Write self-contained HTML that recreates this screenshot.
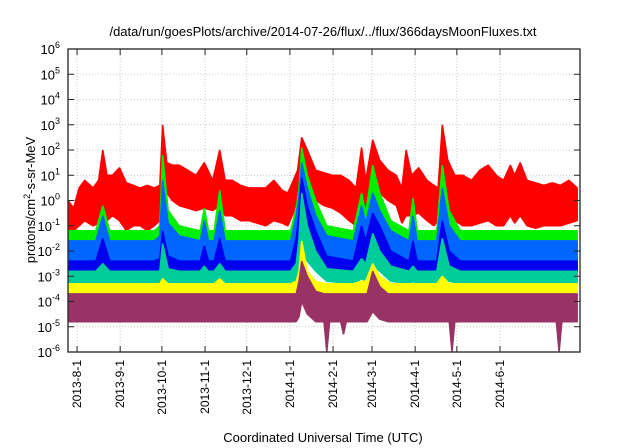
<!DOCTYPE html>
<html><head><meta charset="utf-8"><style>
body{margin:0;background:#fff}
svg{display:block;font-family:"Liberation Sans",sans-serif}
</style></head><body>
<svg id="c" width="640" height="448" xmlns="http://www.w3.org/2000/svg">
<defs><clipPath id="clip"><rect x="68" y="49" width="512" height="303"/></clipPath></defs>
<text x="323" y="36" text-anchor="middle" font-size="13">/data/run/goesPlots/archive/2014-07-26/flux/../flux/366daysMoonFluxes.txt</text>
<g id="grid"></g>
<g id="series" clip-path="url(#clip)"></g>
<rect x="68" y="49" width="512" height="303" fill="none" stroke="#222" stroke-width="1.3"/>
<g id="axes"></g>
<text x="323" y="442" text-anchor="middle" font-size="13">Coordinated Universal Time (UTC)</text>
<text transform="translate(35,200) rotate(-90)" text-anchor="middle" font-size="13">protons/cm<tspan dy="-5" font-size="9">2</tspan><tspan dy="5">-s-sr-MeV</tspan></text>
</svg>
<script>
const xTickLabels=["2013-8-1","2013-9-1","2013-10-1","2013-11-1","2013-12-1","2014-1-1","2014-2-1","2014-3-1","2014-4-1","2014-5-1","2014-6-1"];
const xTickDays=[6.5,37.5,67.5,98.5,128.5,159.5,190.5,218.5,249.5,279.5,310.5];
const yTickExp=[-6,-5,-4,-3,-2,-1,0,1,2,3,4,5,6];
const redDays=[0,4,8,12,18,22,25,28,32,37,42,47,52,57,62,66,68,71,75,80,86,92,98,104,109,113,118,124,130,136,142,148,154,158,162,165,168,172,178,184,190,196,202,207,211,214,219,224,230,236,240,243,247,252,258,263,266,269,273,278,284,290,296,302,308,313,318,321,325,330,336,342,348,354,360,366];
const redHi=[0,-0.3,0.5,0.8,0.5,0.8,2.0,1.0,1.0,1.3,0.7,0.6,0.5,0.6,0.5,0.6,3.0,1.5,1.4,1.4,1.2,1.0,1.5,0.8,2.0,0.8,0.8,0.6,0.5,0.5,0.5,0.8,0.4,0.3,0.8,1.2,2.5,2.0,1.2,1.1,1.0,1.0,0.8,0.5,2.1,0.8,2.4,1.6,1.2,1.0,0.5,2.0,1.0,1.3,0.8,0.6,0.5,3.0,1.6,1.0,1.0,0.8,1.2,1.4,1.0,0.8,1.4,1.0,1.5,0.8,0.7,0.6,0.7,0.6,0.8,0.5];
const redLo=[-1.3,-1.2,-1.0,-0.8,-1.0,-0.9,-0.5,-0.8,-0.6,-0.8,-1.2,-1.0,-1.0,-1.2,-1.0,-0.8,0.3,0.3,0.0,-0.2,-0.3,-0.4,-0.3,-0.4,-0.2,-0.6,-0.6,-0.8,-0.8,-0.9,-1.0,-0.8,-0.9,-1.0,-0.5,0.2,1.0,0.6,0.0,-0.2,-0.3,-0.5,-0.8,-1.0,-0.3,-0.3,0.6,0.3,0.0,-0.2,-0.9,-0.6,-0.6,-0.5,-0.8,-1.0,-0.8,0.5,-0.2,-0.8,-1.0,-1.0,-0.9,-0.8,-1.0,-1.0,-0.6,-0.9,-0.6,-1.0,-1.1,-1.0,-1.0,-1.0,-0.9,-0.8];
const evDays=[0,20,25,30,62,66,68,72,80,95,98,101,105,109,113,160,164,166,168,172,178,186,205,211,214,219,224,232,245,248,251,265,269,274,282,366];
const greenHi=[-1.2,-1.2,-0.2,-1.2,-1.2,-1.0,1.8,-0.4,-1.0,-1.2,-0.3,-1.2,-1.2,0.4,-1.2,-1.2,-0.3,0.5,2.1,1.0,0.0,-1.0,-1.2,0.3,-0.5,1.4,0.3,-0.8,-1.2,0.1,-1.2,-1.2,1.4,-0.4,-1.2,-1.2];
const greenLo=[-2.0,-2.0,-1.8,-2.0,-2.0,-2.0,-0.5,-1.8,-2.0,-2.0,-1.9,-2.0,-2.0,-1.6,-2.0,-2.0,-1.8,-1.0,0.0,-0.5,-1.2,-1.8,-2.0,-1.5,-1.6,-0.8,-1.2,-1.8,-2.0,-1.8,-2.0,-2.0,-1.0,-1.8,-2.0,-2.0];
const lblueHi=[-1.6,-1.6,-0.6,-1.6,-1.6,-1.4,0.8,-0.9,-1.4,-1.6,-0.8,-1.6,-1.6,-0.4,-1.6,-1.6,-0.6,0.2,1.5,0.5,-0.6,-1.4,-1.6,-0.2,-0.9,0.3,-0.4,-1.2,-1.6,-0.6,-1.6,-1.6,0.5,-1.0,-1.6,-1.6];
const lblueLo=[-2.7,-2.7,-2.5,-2.7,-2.7,-2.7,-1.5,-2.5,-2.7,-2.7,-2.6,-2.7,-2.7,-2.4,-2.7,-2.7,-2.5,-1.8,-0.5,-1.0,-1.6,-2.4,-2.7,-2.2,-2.3,-1.5,-1.8,-2.4,-2.7,-2.5,-2.7,-2.7,-1.8,-2.5,-2.7,-2.7];
const blueHi=[-2.4,-2.4,-1.5,-2.4,-2.4,-2.3,-1.2,-2.2,-2.4,-2.4,-1.8,-2.4,-2.4,-1.5,-2.4,-2.4,-1.5,-0.5,0.9,-0.2,-1.2,-2.2,-2.4,-1.0,-1.6,-0.5,-1.0,-2.0,-2.4,-1.6,-2.4,-2.4,-0.8,-2.0,-2.4,-2.4];
const blueLo=[-2.9,-2.9,-2.7,-2.9,-2.9,-2.9,-2.5,-2.9,-2.9,-2.9,-2.8,-2.9,-2.9,-2.7,-2.9,-2.9,-2.8,-2.3,-1.2,-1.6,-2.2,-2.8,-2.9,-2.6,-2.7,-2.0,-2.3,-2.8,-2.9,-2.8,-2.9,-2.9,-2.4,-2.8,-2.9,-2.9];
const tealHi=[-2.8,-2.8,-2.5,-2.8,-2.8,-2.8,-1.7,-2.7,-2.8,-2.8,-2.6,-2.8,-2.8,-2.5,-2.8,-2.8,-2.5,-1.5,0.3,-1.0,-2.0,-2.7,-2.8,-2.3,-2.5,-1.3,-2.0,-2.6,-2.8,-2.6,-2.8,-2.8,-1.5,-2.6,-2.8,-2.8];
const tealLo=[-3.3,-3.3,-3.3,-3.3,-3.3,-3.3,-3.0,-3.3,-3.3,-3.3,-3.3,-3.3,-3.3,-3.2,-3.3,-3.3,-3.2,-3.0,-2.0,-2.4,-2.8,-3.2,-3.3,-3.1,-3.2,-2.6,-2.8,-3.2,-3.3,-3.2,-3.3,-3.3,-3.0,-3.2,-3.3,-3.3];
const yellowHi=[-3.3,-3.3,-3.3,-3.3,-3.3,-3.3,-3.1,-3.3,-3.3,-3.3,-3.3,-3.3,-3.3,-3.1,-3.3,-3.3,-3.2,-2.8,-1.6,-2.8,-3.2,-3.3,-3.3,-3.2,-3.2,-2.5,-3.0,-3.3,-3.3,-3.3,-3.3,-3.3,-3.0,-3.3,-3.3,-3.3];
const yellowLo=[-3.75,-3.75,-3.75,-3.75,-3.75,-3.75,-3.75,-3.75,-3.75,-3.75,-3.75,-3.75,-3.75,-3.75,-3.75,-3.75,-3.75,-3.6,-2.8,-3.3,-3.7,-3.75,-3.75,-3.75,-3.75,-3.4,-3.6,-3.75,-3.75,-3.75,-3.75,-3.75,-3.75,-3.75,-3.75,-3.75];
const maroonDays=[0,160,164,166,168,172,178,184,186,188,196,198,200,215,219,224,230,274,276,278,351,353,355,366];
const maroonHi=[-3.7,-3.7,-3.7,-3.2,-2.4,-3.0,-3.6,-3.7,-3.7,-3.7,-3.7,-3.7,-3.7,-3.7,-2.8,-3.4,-3.7,-3.7,-3.7,-3.7,-3.7,-3.7,-3.7,-3.7];
const maroonLo=[-4.8,-4.8,-4.8,-4.6,-4.0,-4.5,-4.8,-4.8,-6,-4.8,-4.8,-5.3,-4.8,-4.8,-4.4,-4.7,-4.8,-4.8,-6,-4.8,-4.8,-6,-4.8,-4.8];

const NS="http://www.w3.org/2000/svg";
const X0=68,X1=580,Y0=352,Y1=49;
const xs=d=>X0+(X1-X0)*d/368;
const ys=e=>Y0-(Y0-Y1)*(e+6)/12;
function mk(tag,attrs,parent){const el=document.createElementNS(NS,tag);for(const k in attrs)el.setAttribute(k,attrs[k]);parent.appendChild(el);return el;}
const grid=document.getElementById('grid'),axes=document.getElementById('axes'),ser=document.getElementById('series');
yTickExp.forEach(e=>{
  const y=ys(e);
  if(e>-6&&e<6){const g=mk('line',{x1:X0,x2:X1,y1:y,y2:y,stroke:'#bbb','stroke-dasharray':'1,2','stroke-width':0.8},grid);
  
  }
  const t1=mk('line',{x1:X0,x2:X0+6,y1:y,y2:y,stroke:'#222'},axes);
  
  
  const t2=mk('line',{x1:X1-6,x2:X1,y1:y,y2:y,stroke:'#222'},axes);
  
  
  const tx=mk('text',{x:X0-8,y:y+5,'text-anchor':'end','font-size':13},axes);
  
  
  tx.innerHTML='10<tspan dy="-6" font-size="9">'+e+'</tspan>';
});
xTickDays.forEach((d,i)=>{
  const x=xs(d);
  const g=mk('line',{x1:x,x2:x,y1:Y1,y2:Y0,stroke:'#bbb','stroke-dasharray':'1,2','stroke-width':0.8},grid);
  
  
  const t=mk('line',{x1:x,x2:x,y1:Y0,y2:Y0-6,stroke:'#222'},axes);
  
  
  const t2=mk('line',{x1:x,x2:x,y1:Y1,y2:Y1+6,stroke:'#222'},axes);
  
  
  const tx=mk('text',{transform:`translate(${x+4},${Y0+8}) rotate(-90)`,'text-anchor':'end','font-size':12},axes);
  
  
  tx.textContent=xTickLabels[i];
});
function band(days,hi,lo,color,name){
  let p='M'+days.map((d,i)=>xs(d).toFixed(1)+','+ys(hi[i]).toFixed(1)).join('L');
  for(let i=days.length-1;i>=0;i--)p+='L'+xs(days[i]).toFixed(1)+','+ys(lo[i]).toFixed(1);
  const el=mk('path',{d:p+'Z',fill:color,stroke:color,'stroke-width':1.5,'stroke-linejoin':'bevel'},ser);
  
  
}
band(redDays,redHi,redLo,'#ff0000','series-red');
band(evDays,greenHi,greenLo,'#00ee00','series-green');
band(evDays,lblueHi,lblueLo,'#0066ff','series-light-blue');
band(evDays,blueHi,blueLo,'#0000ee','series-blue');
band(evDays,tealHi,tealLo,'#00cc99','series-teal');
band(evDays,yellowHi,yellowLo,'#ffff00','series-yellow');
band(maroonDays,maroonHi,maroonLo,'#993366','series-maroon');
</script>
</body></html>
